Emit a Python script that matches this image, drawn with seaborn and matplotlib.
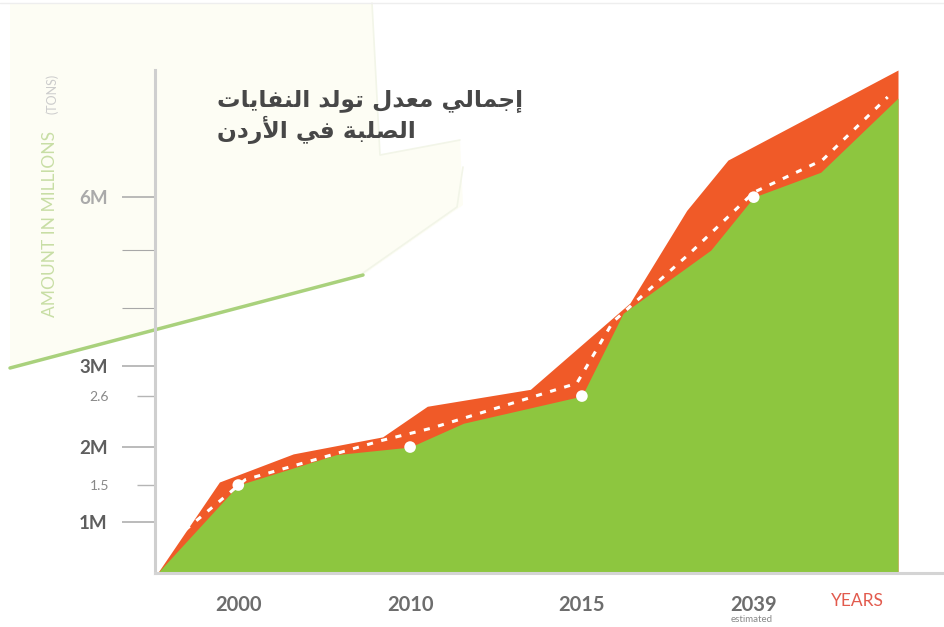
import numpy as np
import matplotlib
matplotlib.use("Agg")
import matplotlib.pyplot as plt
import seaborn as sns
from matplotlib.patches import Polygon
from matplotlib.lines import Line2D

# ---------------- data (millions of tons) ----------------
year_pos = [1, 2, 3, 4]
year_labels = ["2000", "2010", "2015", "2039"]
marker_values = [1.5, 2.0, 2.6, 6.0]

green_x = [0.53, 1.0, 1.57, 2.0, 2.31, 3.0, 3.24, 3.75, 4.0, 4.39, 4.84]
green_y = [0.0, 1.5, 1.9, 2.0, 2.28, 2.6, 3.91, 5.0, 6.0, 6.47, 7.87]

orange_x = [0.53, 0.89, 1.32, 1.84, 2.10, 2.70, 3.28, 3.61, 3.85, 4.84]
orange_y = [0.0, 1.54, 1.91, 2.12, 2.48, 2.69, 4.09, 5.75, 6.70, 8.40]

trend_x = [0.69, 1.04, 1.84, 2.12, 2.97, 3.18, 3.63, 4.0, 4.40, 4.78]
trend_y = [0.84, 1.57, 2.08, 2.22, 2.77, 3.76, 4.95, 6.09, 6.70, 7.89]

major_ticks = [1, 2, 3, 4, 5, 6]
major_labels = ["1M", "2M", "3M", "", "", "6M"]
minor_ticks = [1.5, 2.6]
minor_labels = ["1.5", "2.6"]

title_lines = ["إجمالي معدل تولد النفايات", "الصلبة في الأردن"]

GREEN = "#8dc63f"
ORANGE = "#f05a28"

# ---------------- minimal Arabic shaping ----------------
FORMS = {
    "\u0627": ("\uFE8D", "\uFE8E", None, None),
    "\u0623": ("\uFE83", "\uFE84", None, None),
    "\u0625": ("\uFE87", "\uFE88", None, None),
    "\u0628": ("\uFE8F", "\uFE90", "\uFE91", "\uFE92"),
    "\u0629": ("\uFE93", "\uFE94", None, None),
    "\u062A": ("\uFE95", "\uFE96", "\uFE97", "\uFE98"),
    "\u062C": ("\uFE9D", "\uFE9E", "\uFE9F", "\uFEA0"),
    "\u062F": ("\uFEA9", "\uFEAA", None, None),
    "\u0631": ("\uFEAD", "\uFEAE", None, None),
    "\u0635": ("\uFEB9", "\uFEBA", "\uFEBB", "\uFEBC"),
    "\u0639": ("\uFEC9", "\uFECA", "\uFECB", "\uFECC"),
    "\u0641": ("\uFED1", "\uFED2", "\uFED3", "\uFED4"),
    "\u0644": ("\uFEDD", "\uFEDE", "\uFEDF", "\uFEE0"),
    "\u0645": ("\uFEE1", "\uFEE2", "\uFEE3", "\uFEE4"),
    "\u0646": ("\uFEE5", "\uFEE6", "\uFEE7", "\uFEE8"),
    "\u0648": ("\uFEED", "\uFEEE", None, None),
    "\u064A": ("\uFEF1", "\uFEF2", "\uFEF3", "\uFEF4"),
}
LAM_ALEF = {"\u0627": ("\uFEFB", "\uFEFC"), "\u0623": ("\uFEF7", "\uFEF8"),
            "\u0625": ("\uFEF9", "\uFEFA")}


def shape(text):
    tokens = []
    i = 0
    while i < len(text):
        c = text[i]
        if c == "\u0644" and i + 1 < len(text) and text[i + 1] in LAM_ALEF:
            tokens.append(("LA", text[i + 1]))
            i += 2
        else:
            tokens.append(("C", c))
            i += 1

    def dual(t):
        return t[0] == "C" and t[1] in FORMS and FORMS[t[1]][2] is not None

    def joining(t):
        return t[0] == "LA" or t[1] in FORMS

    res = []
    for k, t in enumerate(tokens):
        prev = tokens[k - 1] if k > 0 else None
        nxt = tokens[k + 1] if k + 1 < len(tokens) else None
        jp = prev is not None and dual(prev) and joining(t)
        if t[0] == "LA":
            res.append(LAM_ALEF[t[1]][1 if jp else 0])
            continue
        c = t[1]
        if c not in FORMS:
            res.append(c)
            continue
        f = FORMS[c]
        jn = f[2] is not None and nxt is not None and joining(nxt)
        if jp and jn:
            res.append(f[3])
        elif jp:
            res.append(f[1])
        elif jn:
            res.append(f[2])
        else:
            res.append(f[0])
    return "".join(reversed(res))


# ---------------- figure ----------------
sns.set_theme(style="white")
plt.rcParams["font.family"] = ["Lato", "DejaVu Sans"]

W, H = 944, 627
fig = plt.figure(figsize=(W / 100, H / 100), dpi=100)
fig.patch.set_facecolor("white")


def fp(px, py):
    return (px / W, 1 - py / H)


# decorative background
bg = Polygon([fp(10, 3), fp(372, 3), fp(380, 155), fp(460, 140), fp(463, 205),
              fp(363, 275), fp(10, 368)], closed=True,
             transform=fig.transFigure, facecolor="#fdfdf4", edgecolor="none", zorder=-5)
fig.patches.append(bg)
for pts, col, lw in [([(372, 3), (380, 155), (460, 140)], "#f2f5e8", 1.2),
                     ([(463, 167), (457, 207), (363, 273)], "#f2f5e8", 1.2),
                     ([(10, 368), (363, 275)], "#a9d17c", 2.5),
                     ([(0, 3), (944, 3)], "#eeeeee", 1.0)]:
    xs = [fp(*p)[0] for p in pts]
    ys = [fp(*p)[1] for p in pts]
    fig.lines.append(Line2D(xs, ys, transform=fig.transFigure, color=col, lw=lw, zorder=-4))

ax = fig.add_axes([155 / W, (H - 573) / H, (W - 155) / W, 503 / H])
ax.set_facecolor("none")

# non-linear infographic scale
SCALE_V = np.array([0, 1, 1.5, 2, 2.6, 3, 4, 5, 6])
SCALE_H = np.array([0, 51, 88, 126, 177, 207, 265, 323, 376])


def fwd(v):
    v = np.asarray(v, float)
    out = np.interp(v, SCALE_V, SCALE_H)
    out = np.where(v > 6, 376 + (v - 6) * 53, out)
    out = np.where(v < 0, v * 51, out)
    return out


def inv(h):
    h = np.asarray(h, float)
    out = np.interp(h, SCALE_H, SCALE_V)
    out = np.where(h > 376, 6 + (h - 376) / 53, out)
    out = np.where(h < 0, h / 51, out)
    return out


ax.set_yscale("function", functions=(fwd, inv))

ax.fill_between(orange_x, 0, orange_y, color=ORANGE, lw=0, zorder=1)
ax.fill_between(green_x, 0, green_y, color=GREEN, lw=0, zorder=2)
sns.lineplot(x=trend_x, y=trend_y, ax=ax, color="white", lw=2.2, sort=False,
             estimator=None, linestyle=(0, (2.0, 2.8)), zorder=3)
sns.scatterplot(x=year_pos, y=marker_values, ax=ax, color="white", s=70,
                edgecolor="none", zorder=4)

ax.set_xlim((155 - 66.5) / 171.8, (944 - 66.5) / 171.8)
ax.set_ylim(0, 8.4)

ax.set_yticks(major_ticks)
ax.set_yticklabels(major_labels)
ax.set_yticks(minor_ticks, minor=True)
ax.set_yticklabels(minor_labels, minor=True)
ax.tick_params(axis="y", which="major", left=True, length=24, width=1.1, color="#a8a8a8",
               pad=10, labelsize=13.5, labelcolor="#5e5e5e")
ax.tick_params(axis="y", which="minor", left=True, length=13, width=1.0, color="#b5b5b5",
               pad=20, labelsize=10, labelcolor="#888888")
for lbl in ax.get_yticklabels():
    lbl.set_fontweight("bold")
ax.get_yticklabels()[5].set_color("#aaaaaa")
mt = ax.yaxis.get_major_ticks()
for i in (3, 4):
    mt[i].tick1line.set_color("#dddddd")
    mt[i].tick1line.set_markeredgewidth(0.8)

ax.set_xticks(year_pos)
ax.set_xticklabels(year_labels)
ax.tick_params(axis="x", length=0, pad=16, labelsize=14.5, labelcolor="#6d6d6d")
for lbl in ax.get_xticklabels():
    lbl.set_fontweight("bold")

for s in ("top", "right"):
    ax.spines[s].set_visible(False)
ax.spines["left"].set_color("#cfcfcf")
ax.spines["left"].set_linewidth(2.2)
ax.spines["bottom"].set_color("#d4d4d4")
ax.spines["bottom"].set_linewidth(2.2)
ax.set_xlabel("")
ax.set_ylabel("")

# texts
for i, line in enumerate(title_lines):
    fig.text(*fp(217, 100 + 30 * i), shape(line), ha="left", va="center", fontsize=16.8,
             fontweight="bold", color="#474747", family=["DejaVu Sans"])
fig.text(*fp(50, 224), "AMOUNT IN MILLIONS", rotation=90, ha="center", va="center",
         color="#c8dea5", fontsize=12.5)
fig.text(*fp(52, 94), "(TONS)", rotation=90, ha="center", va="center",
         color="#cccccc", fontsize=9)
fig.text(*fp(857, 601), "YEARS", ha="center", va="center", color="#e25a4d", fontsize=12.5)
fig.text(*fp(752, 620), "estimated", ha="center", va="center", color="#888888", fontsize=7)

fig.savefig("out.png", dpi=100)
